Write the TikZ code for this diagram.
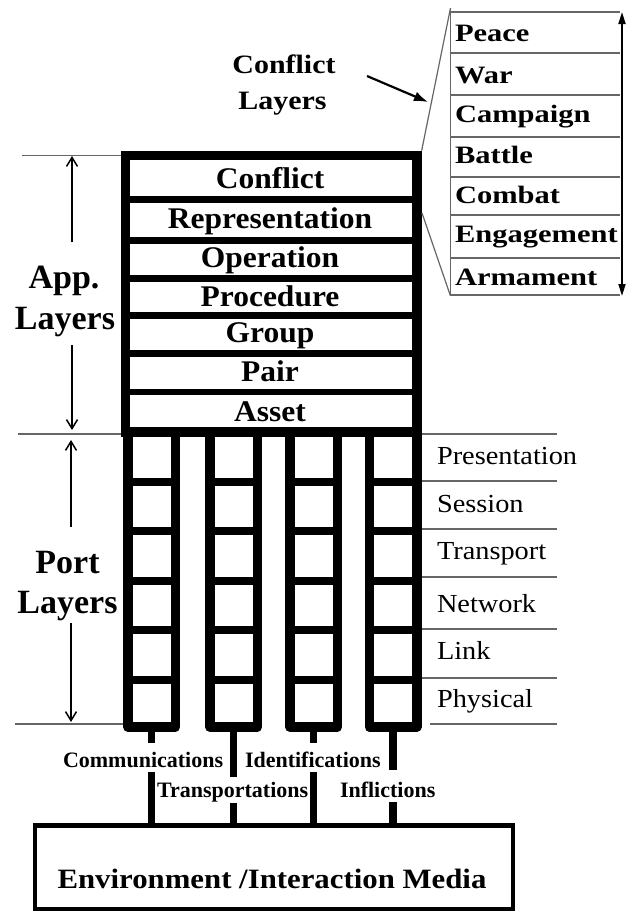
\documentclass[tikz,border=0pt]{standalone}
\usepackage{fontspec}
\usepackage{graphicx}
\setmainfont{Liberation Serif}
\usetikzlibrary{arrows.meta}
\newcommand\stx[2]{\scalebox{#1}[1]{#2}}
\begin{document}
\begin{tikzpicture}[x=1pt,y=-1pt,
  txt/.style={inner sep=0pt,outer sep=0pt},
  stacklab/.style={txt,anchor=base,font=\fontsize{30}{36}\selectfont\bfseries},
  sidelab/.style={txt,anchor=base,font=\fontsize{34}{40}\selectfont\bfseries},
  portlab/.style={txt,anchor=base west,font=\fontsize{26}{30}\selectfont},
  listlab/.style={txt,anchor=base west,font=\fontsize{25}{30}\selectfont\bfseries},
  toplab/.style={txt,anchor=base,font=\fontsize{26.5}{30}\selectfont\bfseries},
  linklab/.style={txt,anchor=base west,font=\fontsize{22}{26}\selectfont\bfseries,fill=white},
  envlab/.style={txt,anchor=base,font=\fontsize{28}{32}\selectfont\bfseries},
  stackbox/.style={draw,line width=9.3pt,minimum width=291.5pt,minimum height=276.7pt,inner sep=0pt},
  layersep/.style={line width=6.5pt},
  colbox/.style={draw,line width=9.5pt,line join=round},
  rowsep/.style={line width=7.5pt},
  stub/.style={line width=7.5pt},
  envbox/.style={draw,line width=4.5pt,minimum width=478pt,minimum height=83.5pt,inner sep=0pt},
  guide/.style={line width=1.4pt,draw=black!60},
  dimarrow/.style={line width=1.5pt,-{Straight Barb[length=9pt,width=11pt]}},
]
\useasboundingbox[fill=white] (0,0) rectangle (627,913);

% guide lines
\draw[guide] (22,155.3) -- (121,155.3);
\draw[guide] (18,434) -- (557,434);
\draw[guide] (15,724) -- (123,724);
\foreach \y in {481,529,577,629,678} \draw[guide] (421,\y) -- (557,\y);
\draw[guide] (430,724) -- (557,724);

% dimension arrows
\draw[dimarrow] (72,242) -- (72,156);
\draw[dimarrow] (72,345) -- (72,430);
\draw[dimarrow] (71,527) -- (71,440);
\draw[dimarrow] (71,623) -- (71,722);

% side labels
\node[sidelab] (appA) at (64,288) {App.};
\node[sidelab] (appB) at (65,329) {Layers};
\node[sidelab] (portA) at (67.5,573) {Port};
\node[sidelab] (portB) at (67.5,613) {Layers};

% environment box
\node[envbox] (env) at (274,867.25) {};
\node[envlab] (envt) at (272,888) {\stx{1.1}{Environment /Interaction Media}};

% port columns
\foreach \L [count=\i] in {123,205,285,364.5} {
  \coordinate (cb\i) at (\L+28.5,727);
  \draw[stub] (cb\i) -- (cb\i |- env.north);
}
\node[linklab,text height=24pt,text depth=5pt] (lc) at (63,767) {Communications};
\node[linklab,text height=24pt,text depth=5pt] (li) at (245,767) {Identifications};
\node[linklab,text height=20pt,text depth=6pt] (lt) at (157,797) {Transportations};
\node[linklab,text height=27pt,text depth=5pt] (lf) at (340,797) {Inflictions};

\foreach \L [count=\i] in {123,205,285,364.5} {
  \draw[colbox] (\L+4.75,432) rectangle (\L+52.25,727);
  \foreach \y in {482,531,581,630,680}
    \draw[rowsep] (\L+4.75,\y) -- (\L+52.25,\y);
}

% application stack
\node[stackbox] (stack) at (271.25,293.65) {};
\foreach \y in {199.5,240.5,278.5,315.5,353.5,392}
  \draw[layersep] (125.5,\y) -- (417,\y);
\foreach \t/\y [count=\i] in {Conflict/188,Representation/228,Operation/267,Procedure/306,Group/342,Pair/381,Asset/421}
  \node[stacklab] (lay\i) at (270,\y) {\stx{1.05}{\t}};

% port layer names
\foreach \t/\y [count=\i] in {Presentation/464,Session/512,Transport/559,Network/612,Link/659,Physical/707}
  \node[portlab] (port\i) at (437,\y) {\stx{1.09}{\t}};

% conflict layer list
\coordinate (lTL) at (450.5,8);
\coordinate (lBL) at (450.5,296);
\coordinate (sR) at (422,213);
\draw[guide] (lTL) -- (lBL);
\foreach \y in {12,53,95,137,177,215,258,295} \draw[guide] (450.5,\y) -- (620,\y);
\draw[guide,line width=1.2pt] (stack.north east) -- (lTL);
\draw[guide,line width=1.2pt] (sR) -- (lBL);
\coordinate (rT) at (622,12);
\coordinate (rB) at (622,296);
\draw[line width=1.8pt,{Triangle[length=12pt,width=7pt]}-{Triangle[length=12pt,width=7pt]}] (rT) -- (rB);
\foreach \t/\y [count=\i] in {Peace/41,War/83,Campaign/122,Battle/163,Combat/203,Engagement/242,Armament/285}
  \node[listlab] (cl\i) at (455,\y) {\stx{1.22}{\t}};

% conflict layers label and arrow
\node[toplab] (ctA) at (284,73) {\stx{1.13}{Conflict}};
\node[toplab] (ctB) at (282.5,109) {\stx{1.13}{Layers}};
\coordinate (clA) at (367,76);
\coordinate (clB) at (428,102);
\draw[line width=2.2pt,-{Latex[length=14pt,width=10pt]}] (clA) -- (clB);
\end{tikzpicture}
\end{document}
